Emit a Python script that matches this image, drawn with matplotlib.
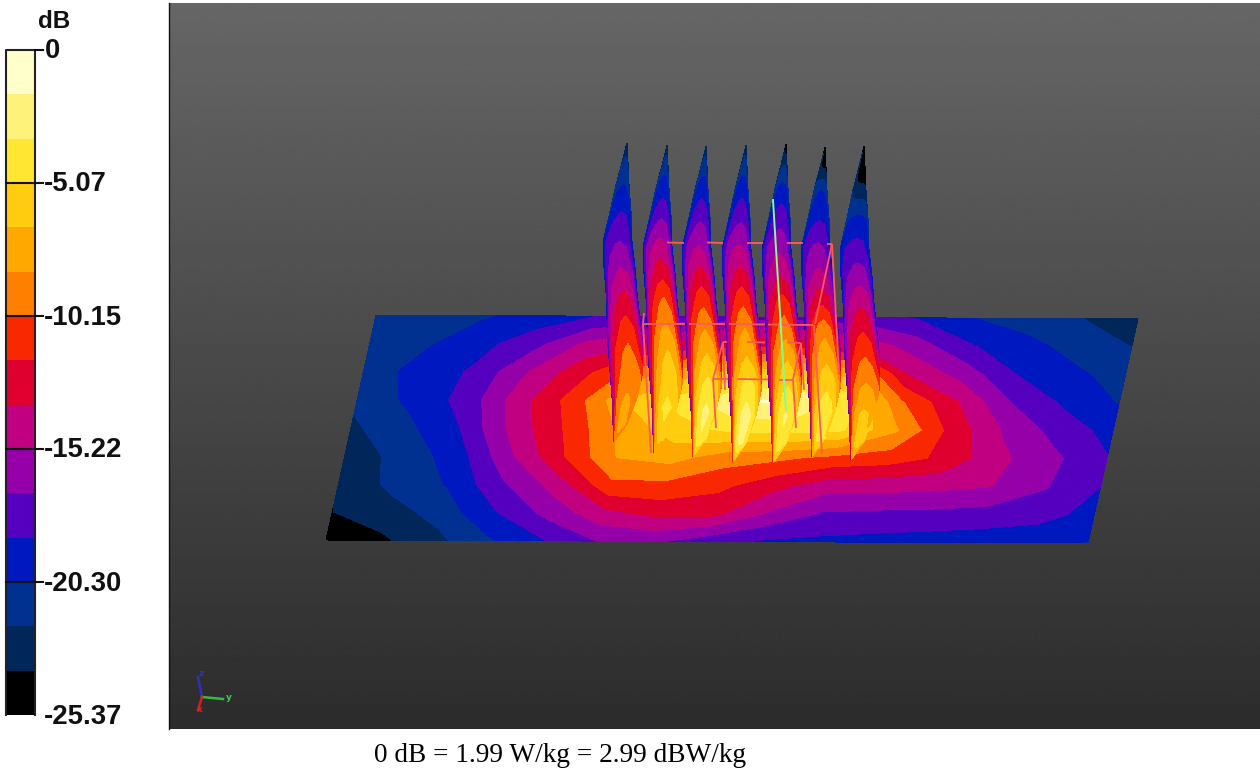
import numpy as np
import matplotlib
matplotlib.use("Agg")
import matplotlib.pyplot as plt

W, H = 1260, 771

# colour scale
band_colors = ["#FFFFCC", "#FFF27A", "#FFE632", "#FFCC10", "#FFA800", "#FF7F00", "#FA2800", "#E00030",
               "#C00080", "#9500A8", "#5500BE", "#0018C0", "#003090", "#00265A", "#000000"]
db_min = -25.37
tick_values = [0, -5.07, -10.15, -15.22, -20.30, -25.37]
tick_labels = ["0", "-5.07", "-10.15", "-15.22", "-20.30", "-25.37"]

# plate: dB values, rows from front edge to rear edge, columns left to right
plate_db = np.array([
    [-26.0, -24.0, -22.5, -20.5, -18.7, -16.85, -16.6, -17.9, -18.8, -19.0, -19.2, -19.4, -19.6, -19.8, -20.4],
    [-23.7, -22.8, -21.3, -18.7, -16.3, -14.0, -13.0, -13.1, -15.4, -17.1, -17.3, -17.4, -17.6, -18.0, -19.2],
    [-23.6, -21.5, -20.2, -17.2, -14.5, -10.6, -10.6, -11.4, -13.0, -14.5, -14.6, -14.8, -15.2, -16.8, -18.6],
    [-23.4, -21.3, -19.7, -15.7, -12.0, -8.4, -7.8, -9.4, -9.8, -10.6, -11.0, -12.2, -14.8, -16.5, -18.5],
    [-22.3, -20.8, -18.6, -14.6, -11.5, -7.9, -5.8, -4.6, -4.4, -4.8, -8.2, -12.3, -15.4, -17.6, -19.2],
    [-21.6, -19.9, -18.0, -14.2, -11.0, -6.6, -4.3, -1.6, -1.5, -4.0, -10.0, -13.4, -16.9, -18.9, -20.4],
    [-21.4, -19.7, -18.4, -15.3, -12.5, -9.5, -7.5, -6.0, -6.0, -7.5, -13.7, -15.9, -18.6, -19.9, -21.0],
    [-21.8, -20.6, -19.2, -17.6, -14.8, -13.5, -12.8, -12.2, -12.5, -14.0, -16.0, -18.4, -19.7, -20.9, -22.0],
    [-21.5, -21.0, -20.5, -19.6, -18.7, -18.2, -17.8, -17.6, -17.6, -17.9, -18.8, -20.3, -21.1, -22.0, -23.6],
])

# seven vertical planes: dB along the ridge, from apex to lower tip
fin_ridge_db = np.array([
    [-23.5, -21.3, -20.3, -18.6, -16.9, -15.2, -13.4, -11.6, -10.0, -9.2, -8.3, -8.0, -9.0],
    [-23.0, -21.0, -19.4, -17.2, -14.4, -12.5, -10.0, -8.2, -6.5, -5.6, -4.7, -5.5, -8.0],
    [-23.0, -21.0, -19.3, -17.2, -15.0, -12.8, -10.6, -8.46, -6.5, -4.6, -3.0, -3.5, -7.0],
    [-23.0, -21.0, -19.2, -17.3, -14.8, -12.7, -10.4, -8.2, -6.5, -4.2, -2.7, -3.0, -7.0],
    [-25.0, -22.0, -19.7, -17.7, -15.5, -13.5, -11.0, -9.0, -6.77, -5.0, -3.2, -3.8, -7.0],
    [-25.5, -23.8, -20.3, -18.8, -16.4, -14.7, -12.2, -9.0, -7.2, -5.5, -4.0, -4.5, -8.0],
    [-27.0, -25.5, -23.0, -20.0, -17.8, -16.0, -13.8, -11.9, -10.0, -8.3, -6.5, -6.0, -8.0],
])
fin_left_db = [-24, -23, -22, -21, -20.3, -20, -19.6, -19, -18.5, -18, -17.5, -17, -16]
fin_right_db = [-24, -23, -22, -21, -20.3, -20, -19.6, -19, -17, -11, -6, -5, -6]
fin_height_frac = [0, .066, .14, .23, .33, .416, .50, .59, .68, .764, .852, .94, 1]
fin_left_dx = [0, -5, -11, -17, -24, -23, -21, -20, -19, -17, -15, -14, -13]
fin_right_dx = [0, 1, 2, 4, 5, 8, 10, 13, 16, 16, 10, 0, -13]
fin_across = [0, .08, .2, .42, .58, .78, .92, 1]
fin_across_weight = [0, .45, .75, .95, 1, .9, .55, 0]
fin_apex_x = [627, 667, 706, 746, 786, 825, 864]
fin_apex_y = [143, 145, 146, 145, 144, 147, 146]
fin_tip_y = [442, 453, 457, 462, 463, 457, 460]

# plate corners on screen
corner_fl, corner_fr, corner_rl, corner_rr = (326, 540), (1088, 543), (376, 315), (1138, 319)

# wire frame and axis lines, screen coordinates
wire_segments = [
    ((667, 242.5), (684, 243)), ((707, 242.5), (723, 243)), ((747, 243), (763, 243)), ((787, 243), (803, 243)), ((827, 244), (832, 244)),
    ((643, 324), (685, 324)), ((689, 324), (725, 324)), ((729, 324), (765, 324.5)), ((768, 324.5), (813, 325)),
    ((723, 342), (727, 342)), ((747, 342), (765, 342.5)), ((787, 342.5), (801, 343)),
    ((713, 379), (728, 379)), ((738, 379), (768, 379.5)), ((779, 379.5), (793, 379.5)),
    ((832, 244), (815, 324)), ((832, 244), (839, 373)), ((643, 324), (651, 453)), ((644, 313), (643, 324)),
    ((814, 325), (822, 454)), ((723, 342), (713, 379)), ((723, 342), (725, 390)), ((713, 379), (716, 428)),
    ((801, 343), (793, 379.5)), ((801, 343), (804, 390)), ((793, 379.5), (796, 428)),
]
green_line = ((773, 200), (786, 410))
triad = {"z": ((202, 697), (198, 677), "#3030D0"), "y": ((202, 697), (223, 699), "#30D040"), "x": ((202, 697), (198, 710), "#E02020")}

fig = plt.figure(figsize=(W / 100, H / 100), dpi=100, facecolor="white")
ax = fig.add_axes([0, 0, 1, 1])
ax.set_xlim(0, W)
ax.set_ylim(H, 0)
ax.axis("off")

# viewport background
grad = np.linspace(0x66, 0x2C, 256).reshape(-1, 1) / 255
ax.imshow(grad, extent=(169, W, 729, 3), cmap="gray", vmin=0, vmax=1, aspect="auto", interpolation="bilinear", zorder=0)
ax.plot([169, 169], [3, 729], color="#111111", lw=1, zorder=1)
ax.set_xlim(0, W)
ax.set_ylim(H, 0)

levels = np.linspace(db_min, 0, 16)
fill_cols = band_colors[::-1]
all_cols = [fill_cols[0]] + fill_cols + [fill_cols[-1]]

# plate
nr, nc = plate_db.shape
v, u = np.meshgrid(np.linspace(0, 1, nr), np.linspace(0, 1, nc), indexing="ij")
cf = lambda i: ((1 - u) * (1 - v) * corner_fl[i] + u * (1 - v) * corner_fr[i] + (1 - u) * v * corner_rl[i] + u * v * corner_rr[i])
ax.contourf(cf(0), cf(1), plate_db, levels=levels, colors=all_cols, extend="both", antialiased=False, zorder=2)

# fins
frac = np.array(fin_height_frac)
ldx, rdx = np.array(fin_left_dx, float), np.array(fin_right_dx, float)
across, weight = np.array(fin_across), np.array(fin_across_weight)
fl, fr = np.array(fin_left_db, float), np.array(fin_right_db, float)
for k in range(7):
    yy = fin_apex_y[k] + frac * (fin_tip_y[k] - fin_apex_y[k])
    X = np.array([fin_apex_x[k] + ldx + s * (rdx - ldx) for s in across]).T
    Y = np.repeat(yy[:, None], len(across), axis=1)
    fr_k = np.minimum(fr, fin_ridge_db[k] - 0.5)
    edge = np.array([fl * (1 - s) + fr_k * s for s in across]).T
    Z = edge + (fin_ridge_db[k][:, None] - edge) * weight[None, :]
    ax.contourf(X, Y, Z, levels=levels, colors=all_cols, extend="both", antialiased=False, zorder=3 + k * 0.01)

# wire frame
for a, b in wire_segments:
    ax.plot([a[0], b[0]], [a[1], b[1]], color="#FF5A5A", lw=1.3, zorder=4, solid_capstyle="butt")
ax.plot([green_line[0][0], green_line[1][0]], [green_line[0][1], green_line[1][1]], color="#80FF90", lw=1.4, zorder=4.1)

# triad
for name, (a, b, c) in triad.items():
    ax.plot([a[0], b[0]], [a[1], b[1]], color=c, lw=1.8, zorder=4, alpha=0.9)
    tx, ty = {"z": (201, 673), "y": (229, 698), "x": (200, 710)}[name]
    ax.text(tx, ty, name, color=c, fontsize=6.5, ha="center", va="center", family="DejaVu Sans", weight="bold", zorder=5)

# colour bar
bar_y0, bar_y1 = 50, 715
edges = np.linspace(bar_y0, bar_y1, 16)
vals = np.arange(15)[:, None]
ax.pcolormesh([6, 35], edges, vals, cmap=matplotlib.colors.ListedColormap(band_colors), vmin=-0.5, vmax=14.5, zorder=2)
ax.plot([6, 6, 35, 35], [bar_y1, bar_y0, bar_y0, bar_y1], color="#222222", lw=1.5, zorder=3)
for t, lab in zip(tick_values, tick_labels):
    yp = bar_y0 + (bar_y1 - bar_y0) * (t / db_min)
    if t not in (0, db_min):
        ax.plot([6, 43], [yp, yp], color="#111111", lw=1.5, zorder=3)
    elif t == 0:
        ax.plot([35, 43], [yp, yp], color="#111111", lw=1.5, zorder=3)
    ax.text(44 if t != 0 else 45, yp + 1.5, lab, fontsize=19.8, family="Liberation Sans", weight="bold",
            ha="left", va="center", color="#111111", zorder=5)
ax.text(38, 21.5, "dB", fontsize=17.5, family="Liberation Sans", weight="bold", ha="left", va="center", color="#111111")

ax.text(374, 755.5, "0 dB = 1.99 W/kg = 2.99 dBW/kg", fontsize=19.6, family="Liberation Serif", ha="left", va="center", color="black")

fig.savefig("out.png", dpi=100)
